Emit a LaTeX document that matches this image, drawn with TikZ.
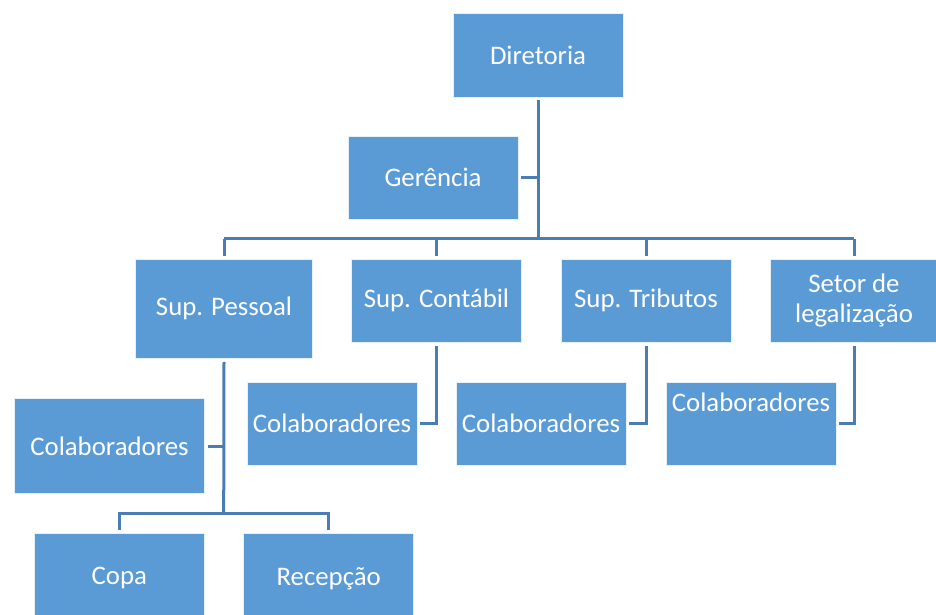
\documentclass[tikz,border=0pt]{standalone}
\usepackage{fontspec}
\setmainfont{Carlito}
\definecolor{boxblue}{HTML}{5B9BD5}
\definecolor{linkblue}{HTML}{4A7EB3}
\begin{document}
\begin{tikzpicture}[x=1pt,y=-1pt,
  box/.style={rectangle, fill=boxblue, draw=white!85!boxblue, line width=0.6pt, inner sep=0pt,
    text=white, align=center, font=\fontsize{26.8}{29.5}\selectfont},
  conn/.style={draw=linkblue, line width=3pt}]
\useasboundingbox (0,0) rectangle (936,614);
% top
\node[box, minimum width=170, minimum height=83.5] (dir) at (538,55.2) {Diretoria};
\node[box, minimum width=170, minimum height=83.5] (ger) at (433,177.7) {Gerência};
% supervisors
\node[box, minimum width=177, minimum height=99.5] (sp) at (224,308.7) {Sup. Pessoal};
\node[box, minimum width=170, minimum height=83.5] (sc) at (436.5,300.7) {Sup. Contábil};
\node[box, minimum width=170, minimum height=83.5] (st) at (646,300.7) {Sup. Tributos};
\node[box, minimum width=168, minimum height=83.5] (sl) at (854,300.7) {Setor de\\legalização};
% collaborators
\node[box, minimum width=190, minimum height=95.5] (cp) at (109.5,446) {Colaboradores};
\node[box, minimum width=170, minimum height=83.5] (cc) at (332,423.7) {Colaboradores};
\node[box, minimum width=170, minimum height=83.5] (ct) at (541,423.7) {Colaboradores};
\node[box, minimum width=170, minimum height=83.5, label={[text=white, font=\fontsize{26.8}{29.5}\selectfont, yshift=21pt]center:Colaboradores}] (cl) at (751,423.7) {};
\node[box, minimum width=170, minimum height=90] (copa) at (119.3,578.3) {Copa};
\node[box, minimum width=170, minimum height=90] (rec) at (328.7,578.3) {Recepção};
% bus coordinates
\coordinate (bus) at (538,238.7);
\coordinate (bus2) at (223.7,513.3);
% connectors
\draw[conn] ([yshift=-3pt]dir.south) -- (bus);
\draw[conn] ([xshift=3pt]ger.east) -- (ger.east -| bus);
\draw[conn] (sp.north |- bus) -- (sl.north |- bus);
\draw[conn] (sp.north |- bus) -- ([yshift=3pt]sp.north);
\draw[conn] (sc.north |- bus) -- ([yshift=3pt]sc.north);
\draw[conn] (st.north |- bus) -- ([yshift=3pt]st.north);
\draw[conn] (sl.north |- bus) -- ([yshift=3pt]sl.north);
\draw[conn] ([yshift=-3pt]sc.south) -- (sc.south |- cc.east) -- ([xshift=3pt]cc.east);
\draw[conn] ([yshift=-3pt]st.south) -- (st.south |- ct.east) -- ([xshift=3pt]ct.east);
\draw[conn] ([yshift=-3pt]sl.south) -- (sl.south |- cl.east) -- ([xshift=3pt]cl.east);
\draw[conn] ([yshift=-3pt]sp.south) -- (bus2);
\draw[conn] ([xshift=3pt]cp.east) -- (cp.east -| bus2);
\draw[conn] ([yshift=3pt]copa.north) -- (copa.north |- bus2) -- (rec.north |- bus2) -- ([yshift=3pt]rec.north);
\end{tikzpicture}
\end{document}
